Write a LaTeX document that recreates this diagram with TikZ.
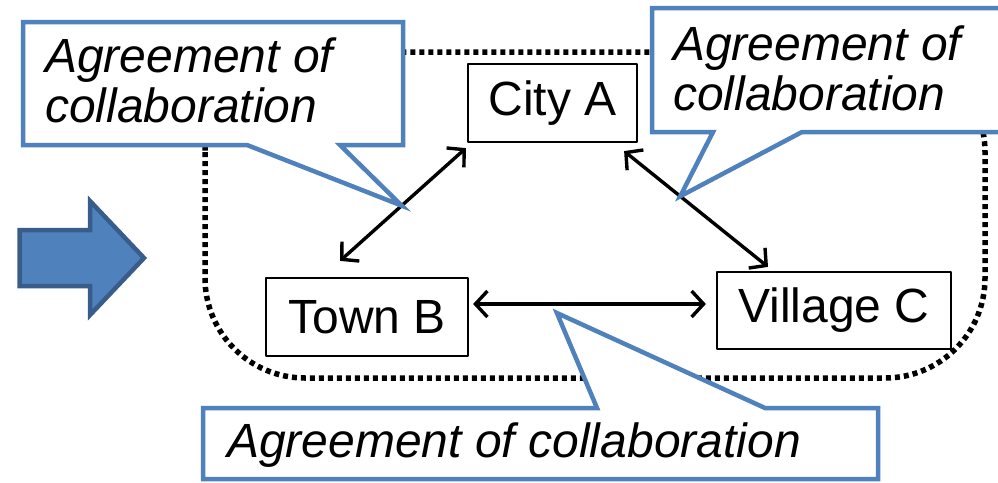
\documentclass[tikz,border=0pt]{standalone}
\usepackage{fontspec}
\setmainfont{Liberation Sans}
\usetikzlibrary{arrows.meta,calc}
\definecolor{calloutblue}{RGB}{79,129,189}
\definecolor{arrowedge}{RGB}{56,93,138}
\begin{document}
\begin{tikzpicture}[x=1pt,y=-1pt,line cap=round,line join=round,>={Straight Barb[length=12pt,width=26pt]},
  place/.style={draw,line width=2.2pt,inner sep=0pt,font=\fontsize{48}{50}\selectfont},
  link/.style={<->,line width=3.4pt},
  callout/.style={draw=calloutblue,line width=4.5pt,fill=white,line join=miter},
  calltext/.style={anchor=north west,align=left,inner sep=0pt,font=\fontsize{48}{50}\selectfont\itshape},
  frame/.style={line width=5.5pt,dash pattern=on 5pt off 4pt,line cap=butt,rounded corners=100pt}]
\clip (0,0) rectangle (998,482);
\draw[frame] (205,52) rectangle (985,378);
\draw[fill=calloutblue,draw=arrowedge,line width=4.5pt,line join=miter] (19.5,230) -- (90,230) -- (90,201) -- (144,258) -- (90,315) -- (90,286) -- (19.5,286) -- cycle;
\node[place,minimum width=169pt,minimum height=78pt] (cityA) at (552.5,103) {City A};
\node[place,minimum width=202pt,minimum height=78pt] (townB) at (367,317) {Town B};
\node[place,minimum width=234pt,minimum height=77pt] (villageC) at (834,310.5) {Village C};
\coordinate (ab1) at ([shift={(-1pt,-5pt)}]cityA.south west);
\coordinate (ab2) at ([shift={(-27pt,16pt)}]townB.north);
\coordinate (ac1) at ([shift={(-14pt,-8pt)}]cityA.south east);
\coordinate (ac2) at ([shift={(-66pt,4pt)}]villageC.north);
\coordinate (bc1) at ([shift={(4pt,13pt)}]townB.east);
\coordinate (bc2) at ([shift={(-10pt,6.5pt)}]villageC.west);
\draw[link] (ab1) -- (ab2);
\draw[link] (ac1) -- (ac2);
\draw[link] (bc1) -- (bc2);
\coordinate (tipAB) at ($(ab1)!0.51!(ab2)$);
\coordinate (tipAC) at ($(ac1)!0.39!(ac2)$);
\coordinate (tipBC) at ($(bc1)!0.36!(bc2)+(0,9)$);
\draw[callout] (23,22) -- (403,22) -- (403,145) -- (340,145) -- (tipAB) -- (247,145) -- (23,145) -- cycle;
\draw[callout] (652,8) -- (1010,8) -- (1010,132) -- (802,132) -- (tipAC) -- (713,132) -- (652,132) -- cycle;
\draw[callout] (203,408) -- (597,408) -- (tipBC) -- (765,408) -- (878,408) -- (878,479) -- (203,479) -- cycle;
\node[calltext] (agreeAB) at (45,38) {Agreement of\\collaboration};
\node[calltext] (agreeAC) at (673,26) {Agreement of\\collaboration};
\node[calltext] (agreeBC) at (227,423) {Agreement of collaboration};
\end{tikzpicture}
\end{document}
